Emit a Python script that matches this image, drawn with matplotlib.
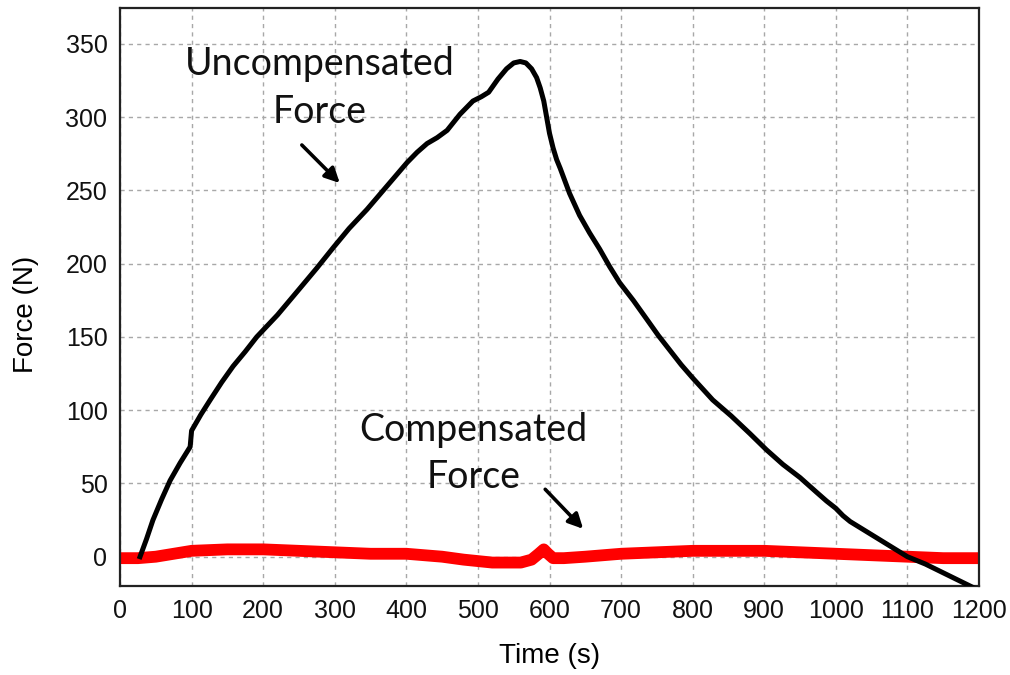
import matplotlib
matplotlib.use("Agg")
import matplotlib.pyplot as plt

# ---- data ----
unc_t = [28, 37, 46, 58, 70, 84, 98, 100, 113, 126, 142, 158, 175, 191, 220, 251,
         275, 298, 320, 345, 373, 401, 415, 429, 443, 457, 475, 493, 505, 515, 528,
         540, 550, 559, 567, 575, 582, 587, 592, 596, 600, 605, 610, 615, 628, 642,
         656, 670, 684, 698, 717, 736, 752, 768, 784, 800, 828, 854, 880, 903, 926,
         950, 973, 987, 1000, 1010, 1020, 1050, 1080, 1100, 1125, 1150, 1175, 1200]
unc_f = [0, 12, 25, 39, 52, 64, 75, 86, 97, 107, 119, 130, 140, 150, 165, 183,
         197, 211, 224, 237, 253, 269, 276, 282, 286, 291, 302, 311, 314, 317, 326,
         333, 337, 338, 337, 333, 327, 320, 311, 300, 289, 279, 271, 265, 248, 233,
         221, 210, 198, 187, 175, 162, 151, 141, 131, 122, 107, 96, 84, 73, 63,
         54, 44, 38, 33, 28, 24, 15, 6, 0, -5, -11, -17, -23]

comp_t = [0, 25, 50, 75, 100, 150, 200, 250, 300, 350, 400, 450, 480, 500, 520, 540,
          560, 575, 585, 592, 598, 605, 620, 650, 700, 750, 800, 850, 900, 950, 1000,
          1050, 1100, 1150, 1200]
comp_f = [-1, -1, 0, 2, 4, 5, 5, 4, 3, 2, 2, 0, -2, -3, -4, -4,
          -4, -2, 2, 5, 2, -1, -1, 0, 2, 3, 4, 4, 4, 3, 2,
          1, 0, -1, -1]

x_ticks = [0, 100, 200, 300, 400, 500, 600, 700, 800, 900, 1000, 1100, 1200]
y_ticks = [0, 50, 100, 150, 200, 250, 300, 350]

x_label = "Time (s)"
y_label = "Force (N)"

fig = plt.figure(figsize=(10.1, 6.75), dpi=100)
ax = fig.add_axes([120 / 1010, 1 - 586 / 675, (979 - 120) / 1010, (586 - 8) / 675])

ax.plot(comp_t, comp_f, color="#ff0000", lw=8.5, solid_capstyle="butt",
        solid_joinstyle="round", zorder=2)
ax.plot(unc_t, unc_f, color="black", lw=3.6, solid_joinstyle="round", zorder=3)

ax.set_xlim(0, 1200)
ax.set_ylim(-20, 374.5)
ax.set_xticks(x_ticks)
ax.set_yticks(y_ticks)

ax.grid(True, color="#a8a8a8", linestyle=(0, (3, 3)), lw=1)
ax.set_axisbelow(True)
for s in ax.spines.values():
    s.set_linewidth(1.6)
    s.set_color("#222222")

fam = ["Liberation Sans", "DejaVu Sans"]
ax.tick_params(length=0, pad=9)
for lab in ax.get_xticklabels() + ax.get_yticklabels():
    lab.set_fontfamily(fam)
    lab.set_fontsize(18)
    lab.set_color("#111111")

ax.set_xlabel(x_label, fontsize=20, family=fam)
ax.set_ylabel(y_label, fontsize=20, family=fam)
ax.xaxis.set_label_coords(0.5, -0.098)
ax.yaxis.set_label_coords(-0.094, 0.47)

ann_font = dict(family=["Lato", "DejaVu Sans"], fontsize=27, color="#111111",
                ha="center", va="baseline")
ax.text(279, 329, "Uncompensated", **ann_font)
ax.text(279, 296, "Force", **ann_font)
ax.text(494, 79, "Compensated", **ann_font)
ax.text(494, 47, "Force", **ann_font)

arrow = dict(arrowstyle="-|>", lw=2.6, color="black", mutation_scale=22,
             shrinkA=0, shrinkB=0)
ax.annotate("", xy=(307, 255), xytext=(254, 281), arrowprops=arrow)
ax.annotate("", xy=(647, 19), xytext=(594, 46), arrowprops=arrow)

fig.savefig("out.png", dpi=100)
